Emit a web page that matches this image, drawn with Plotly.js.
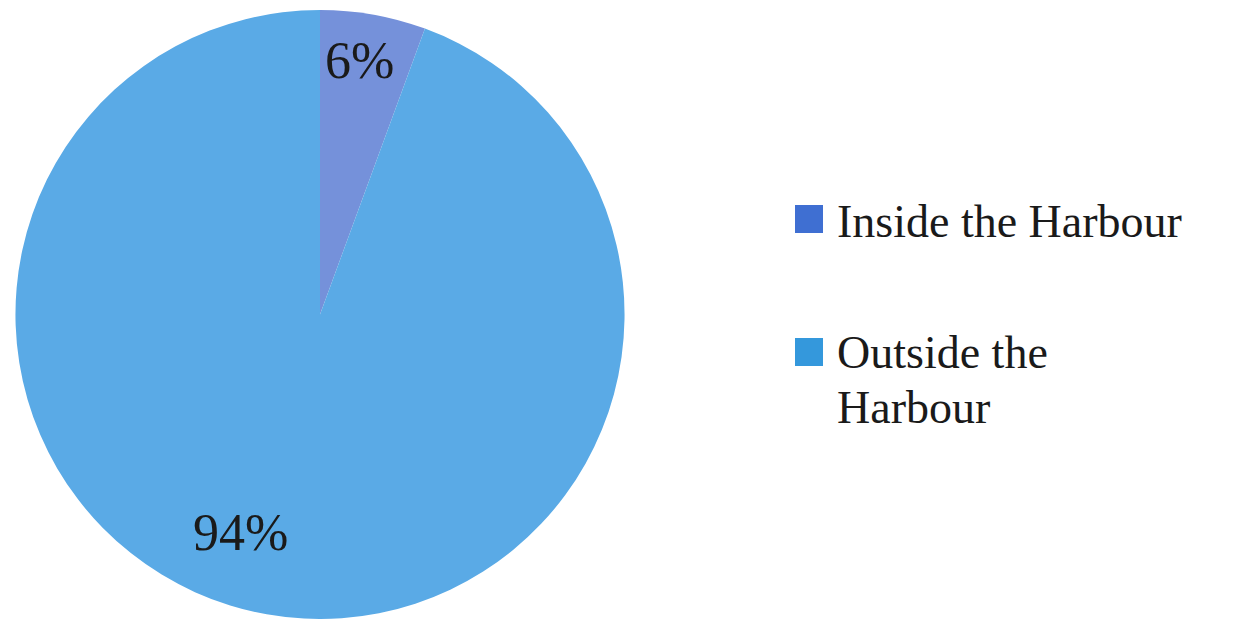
<!DOCTYPE html>
<html>
<head>
<meta charset="utf-8">
<script src="https://cdn.plot.ly/plotly-3.0.1.min.js"></script>
<style>html,body{margin:0;padding:0;background:#fff;}#chart{width:1236px;height:619px;}</style>
</head>
<body>
<div id="chart"></div>
<script>
const categories = ['Inside the Harbour', 'Outside the Harbour'];
const legendLines = [['Inside the Harbour'], ['Outside the', 'Harbour']];
const shares = [5.6, 94.4];
const sliceColors = ['#7591da', '#5aaae6'];
const legendColors = ['#3f6fd2', '#3498dc'];

const total = shares.reduce((a, b) => a + b, 0);
const pctText = shares.map(v => Math.round(v / total * 100) + '%');

const trace = {
  type: 'pie',
  labels: categories,
  values: shares,
  sort: false,
  direction: 'clockwise',
  rotation: 0,
  marker: { colors: sliceColors, line: { width: 0 } },
  textinfo: 'none',
  hoverinfo: 'label+percent',
  domain: { x: [0.0121, 0.5057], y: [0, 0.984] },
  showlegend: false
};

const font = 'Liberation Serif, DejaVu Serif, serif';
const annotations = [
  { x: 359 / 1236, y: 1 - 60 / 619, text: pctText[0] },
  { x: 241 / 1236, y: 1 - 532 / 619, text: pctText[1] }
].map(a => Object.assign(a, {
  xref: 'paper', yref: 'paper', showarrow: false,
  xanchor: 'center', yanchor: 'middle',
  font: { family: font, size: 52, color: '#1a1a1a' }
}));

const shapes = [];
const squareY = [219, 352];
const lineY = [[219], [350, 405]];
categories.forEach((c, i) => {
  shapes.push({
    type: 'rect', xref: 'paper', yref: 'paper',
    x0: 795 / 1236, x1: 823 / 1236,
    y0: 1 - (squareY[i] - 14) / 619, y1: 1 - (squareY[i] + 14) / 619,
    fillcolor: legendColors[i], line: { width: 0 }
  });
  legendLines[i].forEach((t, j) => {
    annotations.push({
      xref: 'paper', yref: 'paper', showarrow: false,
      x: 835 / 1236, y: 1 - (lineY[i][j] + 2) / 619,
      xanchor: 'left', yanchor: 'middle', align: 'left',
      text: t,
      font: { family: font, size: 46, color: '#1a1a1a' }
    });
  });
});

const layout = {
  width: 1236, height: 619,
  margin: { l: 0, r: 0, t: 0, b: 0 },
  paper_bgcolor: '#ffffff',
  plot_bgcolor: '#ffffff',
  showlegend: false,
  annotations: annotations,
  shapes: shapes
};

Plotly.newPlot('chart', [trace], layout, { displayModeBar: false, staticPlot: true });
</script>
</body>
</html>
